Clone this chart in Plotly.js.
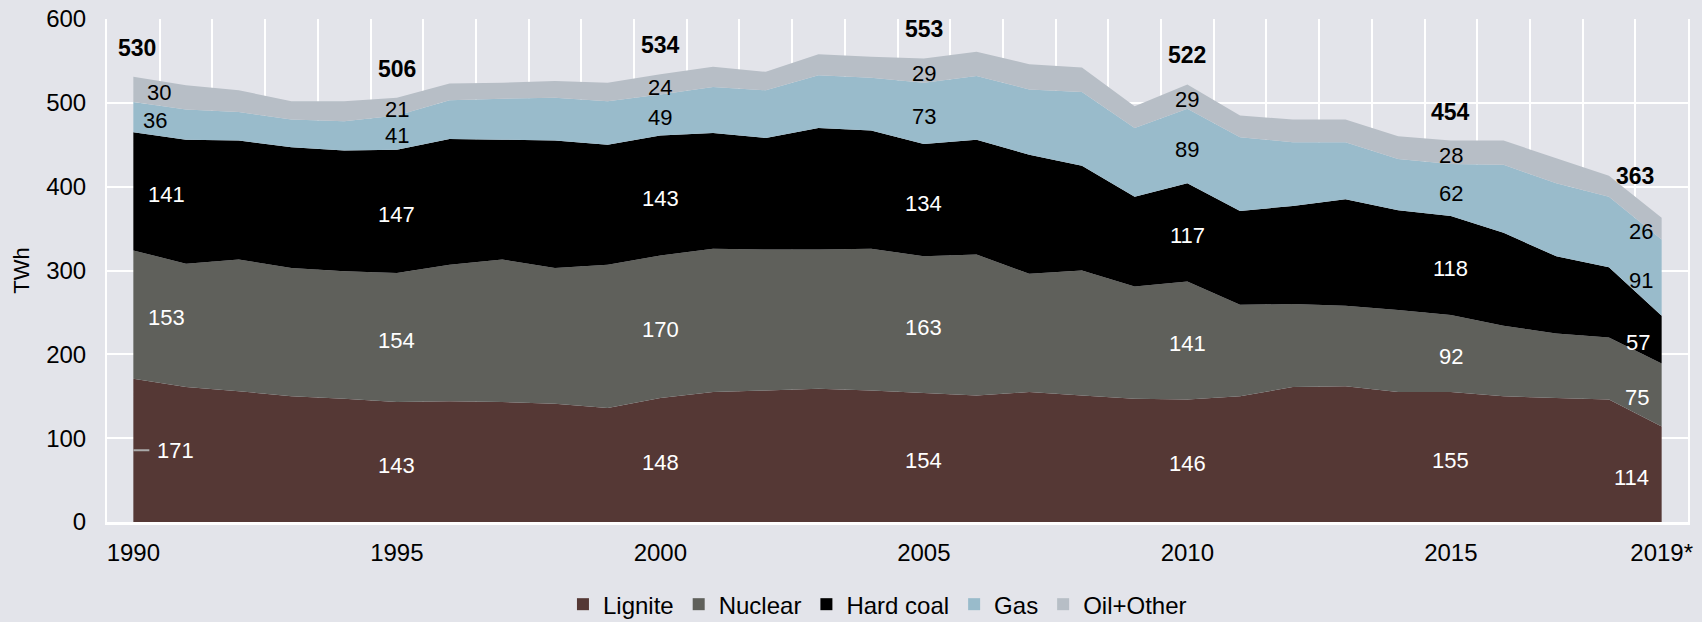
<!DOCTYPE html>
<html>
<head>
<meta charset="utf-8">
<script src="https://cdn.plot.ly/plotly-3.0.1.min.js"></script>
<style>
  html, body { margin: 0; padding: 0; background: #e3e4ea; }
  #chart { width: 1702px; height: 622px; }
</style>
</head>
<body>
<div id="chart"></div>
<script>
// ---- data (TWh) ----
const years = [1990,1991,1992,1993,1994,1995,1996,1997,1998,1999,2000,2001,2002,2003,2004,2005,2006,2007,2008,2009,2010,2011,2012,2013,2014,2015,2016,2017,2018,2019];
const lignite  = [171,161,156,150,147,143,144,143,141,136,148,155,157,159,157,154,151,155,151,147,146,150,161,162,155,155,150,148,146,114];
const nuclear  = [153,147,157,153,152,154,163,170,162,171,170,171,168,166,169,163,168,141,149,134,141,109,99,96,98,92,84,77,74,75];
const hardCoal = [141,148,142,144,144,147,150,143,152,143,143,138,133,145,141,134,137,142,125,107,117,112,117,127,119,118,111,92,84,57];
const gas      = [36,36,34,33,35,41,46,49,51,52,49,55,57,63,63,73,76,78,88,82,89,88,76,68,61,62,81,87,84,91];
const oilOther = [30,29,26,22,24,21,20,19,20,22,24,24,22,25,25,29,29,30,29,26,29,26,27,27,27,28,29,30,25,26];

const seriesNames = ['Lignite','Nuclear','Hard coal','Gas','Oil+Other'];
const labelYears  = [1990,1995,2000,2005,2010,2015,2019];
const totalLabels = [530,506,534,553,522,454,363];
const xTickVals   = [1990,1995,2000,2005,2010,2015,2019];
const xTickText   = ['1990','1995','2000','2005','2010','2015','2019*'];

// ---- styles ----
const colors = ['#553835','#5f605b','#000000','#99bbcb','#b7bec6'];
const labelColors = ['#ffffff','#ffffff','#ffffff','#000000','#000000'];
const shift1990 = [0,33,33,22,26];
const shift2019 = [-30,-25,-24,-21,-21];
const FONT = 'Liberation Sans, Arial, sans-serif';

const series = [lignite, nuclear, hardCoal, gas, oilOther];

const traces = series.map((s, i) => ({
  type: 'scatter',
  x: years,
  y: s,
  name: seriesNames[i],
  stackgroup: 'one',
  mode: 'none',
  fillcolor: colors[i],
  line: {width: 0},
  showlegend: false,
  hoverinfo: 'x+y+name'
}));

// legend-only square markers
series.forEach((s, i) => {
  traces.push({
    type: 'scatter',
    x: [null], y: [null],
    name: seriesNames[i],
    mode: 'markers',
    marker: {symbol: 'square', size: 12, color: colors[i]},
    showlegend: true,
    hoverinfo: 'skip'
  });
});

const annotations = [];
labelYears.forEach((yr, k) => {
  const idx = years.indexOf(yr);
  let cum = 0;
  series.forEach((s, i) => {
    const v = s[idx];
    const mid = cum + v / 2;
    cum += v;
    let xshift = 0;
    if (yr === 1990) xshift = shift1990[i];
    if (yr === 2019) xshift = shift2019[i];
    const a = {
      x: yr, y: mid, xref: 'x', yref: 'y',
      text: String(v),
      showarrow: false,
      xshift: xshift, yshift: -3,
      font: {family: FONT, size: 22, color: labelColors[i]}
    };
    if (yr === 1990 && i === 0) {
      Object.assign(a, {
        showarrow: true, ax: 42, ay: 0, arrowhead: 0, arrowwidth: 2,
        arrowcolor: '#aaaaaa', startstandoff: 6, yshift: 0
      });
    }
    annotations.push(a);
  });
  annotations.push({
    x: yr, y: cum, xref: 'x', yref: 'y',
    text: '<b>' + totalLabels[k] + '</b>',
    showarrow: false,
    xshift: yr === 1990 ? 4 : (yr === 2019 ? -27 : 0),
    yshift: yr === 2019 ? 42 : 29,
    font: {family: FONT, size: 23, color: '#000000'}
  });
});

const layout = {
  width: 1702, height: 622,
  paper_bgcolor: '#e3e4ea',
  plot_bgcolor: '#e3e4ea',
  margin: {l: 107, r: 14, t: 19, b: 100, pad: 0},
  font: {family: FONT, size: 24, color: '#000000'},
  showlegend: true,
  legend: {
    orientation: 'h',
    xref: 'paper', x: 0.2884, xanchor: 'left',
    yref: 'container', y: 0.028, yanchor: 'middle',
    bgcolor: 'rgba(0,0,0,0)',
    font: {family: FONT, size: 24, color: '#000000'},
    itemwidth: 30,
    traceorder: 'normal'
  },
  xaxis: {
    range: [1989.5, 2019.5],
    tickmode: 'array',
    tickvals: xTickVals,
    ticktext: xTickText,
    showgrid: false,
    zeroline: false,
    showline: true, linecolor: '#ffffff', linewidth: 3,
    ticks: 'outside', ticklen: 7, tickcolor: 'rgba(0,0,0,0)',
    tickfont: {family: FONT, size: 24, color: '#000000'},
    minor: {tick0: 1989.5, dtick: 1, showgrid: true, gridcolor: '#ffffff', gridwidth: 2, ticks: ''},
    fixedrange: true
  },
  yaxis: {
    range: [0, 600],
    tickmode: 'linear', tick0: 0, dtick: 100,
    showgrid: true, gridcolor: '#ffffff', gridwidth: 2,
    zeroline: false,
    showline: true, linecolor: '#ffffff', linewidth: 2, mirror: true,
    ticks: 'outside', ticklen: 14, tickcolor: 'rgba(0,0,0,0)',
    tickfont: {family: FONT, size: 24, color: '#000000'},
    title: {text: 'TWh', font: {family: FONT, size: 22, color: '#000000'}, standoff: 10},
    fixedrange: true
  },
  annotations: annotations
};

Plotly.newPlot('chart', traces, layout, {displayModeBar: false, staticPlot: true});
</script>
</body>
</html>
